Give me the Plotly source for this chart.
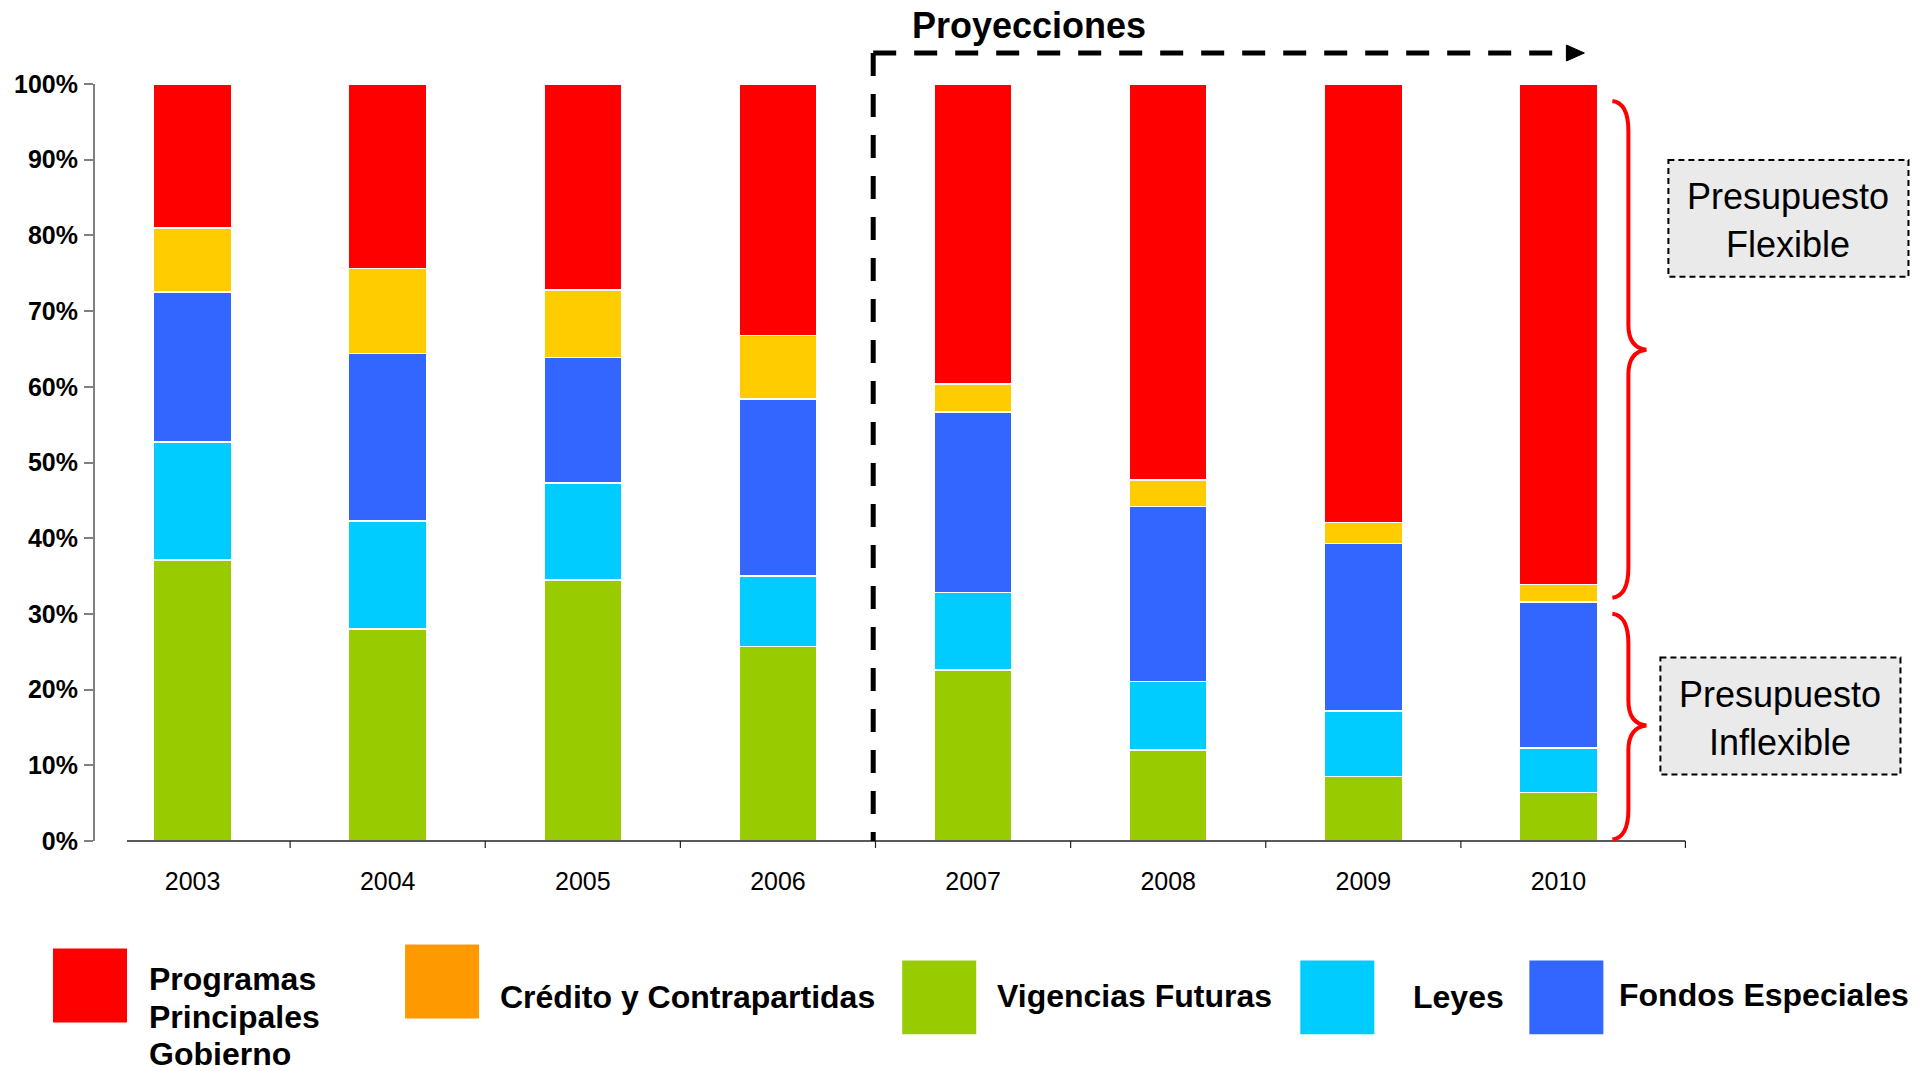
import plotly.graph_objects as go

# ---------------- data ----------------
years = ["2003", "2004", "2005", "2006", "2007", "2008", "2009", "2010"]
vigencias_futuras = [37.1, 28.0, 34.5, 25.7, 22.6, 12.0, 8.5, 6.4]
leyes = [15.6, 14.3, 12.8, 9.3, 10.2, 9.1, 8.7, 5.9]
fondos_especiales = [19.8, 22.1, 16.6, 23.4, 23.9, 23.1, 22.1, 19.3]
credito_contrapartidas = [8.5, 11.2, 8.9, 8.4, 3.7, 3.5, 2.8, 2.3]
programas_principales = [19.0, 24.4, 27.2, 33.2, 39.6, 52.3, 57.9, 66.1]
y_tick_values = [0, 10, 20, 30, 40, 50, 60, 70, 80, 90, 100]
y_tick_labels = [f"{v}%" for v in y_tick_values]

series_names = ["Vigencias Futuras", "Leyes", "Fondos Especiales",
                "Crédito y Contrapartidas", "Programas Principales Gobierno"]
series_values = [vigencias_futuras, leyes, fondos_especiales,
                 credito_contrapartidas, programas_principales]
bar_colors = ["#99CC00", "#00CCFF", "#3366FF", "#FFCC00", "#FF0000"]

# ---------------- geometry helpers ----------------
W, H = 1929, 1071
L, R, T, B = 95.0, 1655.6, 84.0, 841.5


def fx(px):
    return (px - L) / (R - L)


def fy(py):
    return (B - py) / (B - T)


def path(cmds):
    out = []
    for c in cmds:
        if isinstance(c, str):
            out.append(c)
        else:
            out.append(f"{fx(c[0]):.5f},{fy(c[1]):.5f}")
    return " ".join(out)


ARIAL = "Liberation Sans, Arial, sans-serif"
NARROW = "Liberation Sans Narrow, Arial Narrow, Liberation Sans, sans-serif"

fig = go.Figure()
for name, vals, col in zip(series_names, series_values, bar_colors):
    fig.add_trace(go.Bar(
        x=years, y=vals, name=name, showlegend=False,
        marker=dict(color=col, line=dict(color="white", width=1.5)),
    ))

shapes = []
annotations = []

# x axis line and boundary ticks
cat_w = (R - L) / len(years)
shapes.append(dict(type="line", xref="paper", yref="paper",
                   x0=fx(127), x1=fx(1685), y0=0, y1=0,
                   line=dict(color="#222222", width=1.5)))
tick_px = [L + cat_w * (k + 1) for k in range(len(years) - 1)] + [1685]
for tx in tick_px:
    shapes.append(dict(type="line", xref="paper", yref="paper",
                       x0=fx(tx), x1=fx(tx), y0=0, y1=fy(B + 7),
                       line=dict(color="#222222", width=1.2)))

# projection dashed bracket
corner_x, corner_y = 873, 53
shapes.append(dict(type="line", xref="paper", yref="paper",
                   x0=fx(corner_x), y0=fy(corner_y), x1=fx(corner_x), y1=fy(B),
                   line=dict(color="black", width=5, dash="23px,18px")))
shapes.append(dict(type="line", xref="paper", yref="paper",
                   x0=fx(corner_x), y0=fy(corner_y), x1=fx(1568), y1=fy(corner_y),
                   line=dict(color="black", width=5, dash="23px,18px")))
shapes.append(dict(type="path", xref="paper", yref="paper",
                   path=path(["M", (1584, corner_y), "L", (1566, corner_y - 8),
                              "L", (1566, corner_y + 8), "Z"]),
                   fillcolor="black", line=dict(color="black", width=1)))
annotations.append(dict(text="Proyecciones", xref="paper", yref="paper",
                        x=fx(1029), y=fy(25), xanchor="center", yanchor="middle",
                        showarrow=False,
                        font=dict(family=ARIAL, size=36, color="black", weight="bold")))

# curly braces
def brace(top, mid, bot, xt=1612, xv=1628, xp=1646):
    return path(["M", (xt, top), "Q", (xv, top + 2), (xv, top + 30),
                 "L", (xv, mid - 25), "Q", (xv, mid - 2), (xp, mid),
                 "Q", (xv, mid + 2), (xv, mid + 25),
                 "L", (xv, bot - 30), "Q", (xv, bot - 2), (xt, bot)])


shapes.append(dict(type="path", xref="paper", yref="paper",
                   path=brace(101, 350, 598), line=dict(color="#FF0000", width=4)))
shapes.append(dict(type="path", xref="paper", yref="paper",
                   path=brace(614, 726, 840), line=dict(color="#FF0000", width=4)))

# dashed text boxes
boxes = [((1668, 160, 1908, 277), ["Presupuesto", "Flexible"]),
         ((1660, 658, 1900, 775), ["Presupuesto", "Inflexible"])]
for (x0, y0, x1, y1), lines in boxes:
    shapes.append(dict(type="rect", xref="paper", yref="paper",
                       x0=fx(x0), x1=fx(x1), y0=fy(y0), y1=fy(y1),
                       fillcolor="#EAEAEA",
                       line=dict(color="black", width=2, dash="6px,4px")))
    cx = (x0 + x1) / 2
    for i, ln in enumerate(lines):
        annotations.append(dict(text=ln, xref="paper", yref="paper",
                                x=fx(cx), y=fy(y0 + 37 + 47.5 * i),
                                xanchor="center", yanchor="middle", showarrow=False,
                                font=dict(family=NARROW, size=36, color="black")))

# custom legend
legend_items = [
    ("#FF0000", (53, 949), ["Programas", "Principales", "Gobierno"], (147, 980)),
    ("#FF9900", (405, 945), ["Crédito y Contrapartidas"], (498, 998)),
    ("#99CC00", (902, 961), ["Vigencias Futuras"], (995, 997)),
    ("#00CCFF", (1300, 961), ["Leyes"], (1411, 998)),
    ("#3366FF", (1529, 961), ["Fondos Especiales"], (1617, 996)),
]
for col, (sx, sy), lines, (tx, ty) in legend_items:
    shapes.append(dict(type="rect", xref="paper", yref="paper",
                       x0=fx(sx), x1=fx(sx + 74), y0=fy(sy), y1=fy(sy + 74),
                       fillcolor=col, line=dict(width=0)))
    for i, ln in enumerate(lines):
        annotations.append(dict(text=ln, xref="paper", yref="paper",
                                x=fx(tx), y=fy(ty + 37.5 * i),
                                xanchor="left", yanchor="middle", showarrow=False,
                                font=dict(family=ARIAL, size=32, color="black",
                                          weight="bold")))

fig.update_layout(
    width=W, height=H,
    margin=dict(l=L, r=W - R, t=T, b=H - B, pad=0),
    paper_bgcolor="white", plot_bgcolor="white",
    barmode="stack", bargap=0.6,
    showlegend=False,
    shapes=shapes, annotations=annotations,
    xaxis=dict(type="category", range=[-0.5, len(years) - 0.5],
               showgrid=False, zeroline=False, showline=False, ticks="",
               automargin=False, ticklabelstandoff=23,
               tickfont=dict(family=ARIAL, size=25, color="black")),
    yaxis=dict(range=[0, 100], tickmode="array", tickvals=y_tick_values,
               ticktext=y_tick_labels, showgrid=False, zeroline=False,
               showline=True, linecolor="#808080", linewidth=2,
               ticks="outside", ticklen=9, tickcolor="#808080", tickwidth=1.5,
               automargin=False, ticklabelstandoff=1,
               tickfont=dict(family=ARIAL, size=25, color="black", weight="bold")),
)

fig.write_html("out.html", config={"displayModeBar": False},
               post_script="document.body.style.margin='0';document.body.style.overflow='hidden';")
